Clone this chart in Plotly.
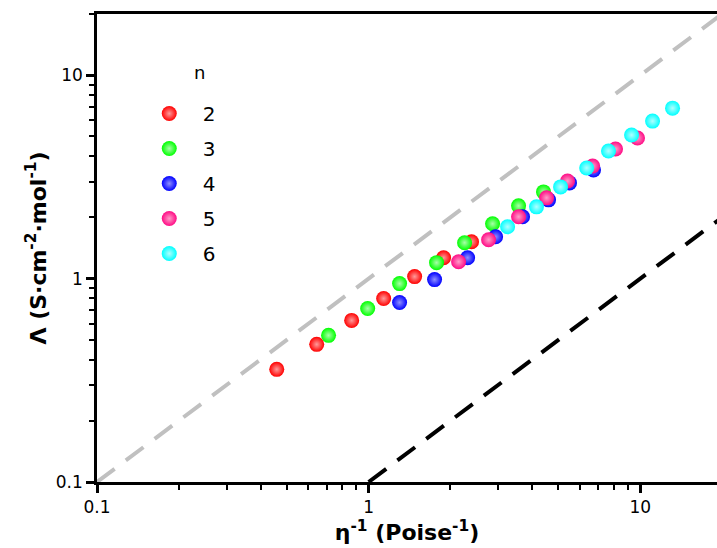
import plotly.graph_objects as go

# data (x: 1/eta in Poise^-1, y: molar conductivity)
n_labels = ["2", "3", "4", "5", "6"]
x_n2 = [0.459, 0.644, 0.866, 1.136, 1.477, 1.888, 2.393]
y_n2 = [0.358, 0.475, 0.623, 0.798, 1.023, 1.267, 1.518]
x_n3 = [0.712, 0.992, 1.300, 1.779, 2.256, 2.860, 3.565, 4.405]
y_n3 = [0.526, 0.713, 0.945, 1.198, 1.502, 1.861, 2.279, 2.669]
x_n4 = [1.300, 1.749, 2.314, 2.934, 3.687, 4.597, 5.49, 6.73]
y_n4 = [0.763, 0.989, 1.267, 1.606, 2.014, 2.439, 2.955, 3.42]
x_n5 = [2.144, 2.765, 3.565, 4.52, 5.40, 6.68, 8.11, 9.77]
y_n5 = [1.211, 1.553, 2.014, 2.495, 3.02, 3.58, 4.34, 4.91]
x_n6 = [3.248, 4.15, 5.09, 6.35, 7.64, 9.29, 11.10, 13.15]
y_n6 = [1.798, 2.254, 2.825, 3.50, 4.24, 5.08, 5.95, 6.89]
legend_title = "n"

# reference lines: ideal (y = x) and 10% ionicity (y = 0.1 x)
ideal_x = [0.1, 20]
ideal_y = [0.1, 20]
tenth_x = [1, 20]
tenth_y = [0.1, 2]

colors = ["#ff0000", "#00ff00", "#0000ff", "#ff0a85", "#00ffff"]
centers = ["#ff9a9a", "#a8ffa8", "#8f8fff", "#ff9cc8", "#b0ffff"]
xs = [x_n2, x_n3, x_n4, x_n5, x_n6]
ys = [y_n2, y_n3, y_n4, y_n5, y_n6]

fig = go.Figure()
fig.add_trace(go.Scatter(x=ideal_x, y=ideal_y, mode="lines", showlegend=False,
                         line=dict(color="#c0c0c0", width=4, dash="22px,14px")))
fig.add_trace(go.Scatter(x=tenth_x, y=tenth_y, mode="lines", showlegend=False,
                         line=dict(color="black", width=4, dash="22px,14px")))
for lab, xv, yv, c, cc in zip(n_labels, xs, ys, colors, centers):
    fig.add_trace(go.Scatter(
        x=xv, y=yv, mode="markers", name=lab, legendgroup=lab,
        marker=dict(size=15, color=c, line=dict(width=0),
                    gradient=dict(type="radial", color=cc)),
    ))

minor_vals = [m * 10 ** e for e in (-1, 0, 1) for m in range(2, 10)]
font_family = "DejaVu Sans"

fig.update_xaxes(
    type="log", range=[-1, 1.2826],
    tickvals=[0.1, 1, 10], ticktext=["0.1", "1", "10"],
    ticks="outside", ticklen=8, tickwidth=2.5, tickcolor="black",
    minor=dict(tickvals=minor_vals, ticks="outside", ticklen=5, tickwidth=2, tickcolor="black", showgrid=False),
    showline=True, linecolor="black", linewidth=2.5, mirror=True,
    showgrid=False, zeroline=False,
    tickfont=dict(family=font_family, size=17, color="black"),
    title=dict(text="<b>η<sup>-1</sup> (Poise<sup>-1</sup>)</b>", standoff=8,
               font=dict(family=font_family, size=22, color="black")),
)
fig.update_yaxes(
    type="log", range=[-1, 1.30103],
    tickvals=[0.1, 1, 10], ticktext=["0.1", "1", "10"],
    ticks="outside", ticklen=8, tickwidth=2.5, tickcolor="black",
    minor=dict(tickvals=minor_vals, ticks="outside", ticklen=5, tickwidth=2, tickcolor="black", showgrid=False),
    showline=True, linecolor="black", linewidth=2.5, mirror=False,
    showgrid=False, zeroline=False,
    tickfont=dict(family=font_family, size=17, color="black"),
    title=dict(text="<b>Λ (S·cm<sup>-2</sup>·mol<sup>-1</sup>)</b>", standoff=4,
               font=dict(family=font_family, size=22, color="black")),
)

fig.add_annotation(
    text=legend_title, xref="paper", yref="paper", x=0.166, y=0.874,
    xanchor="center", yanchor="middle", showarrow=False,
    font=dict(family=font_family, size=18, color="black"),
)

fig.update_layout(
    width=717, height=548,
    margin=dict(l=97, r=0, t=14, b=66),
    paper_bgcolor="white", plot_bgcolor="white",
    legend=dict(
        x=0.0625, y=0.829, xanchor="left", yanchor="top",
        font=dict(family=font_family, size=20, color="black"),
        bgcolor="rgba(0,0,0,0)", tracegroupgap=6, itemsizing="trace", itemwidth=57,
    ),
)

fig.write_html("out.html")
